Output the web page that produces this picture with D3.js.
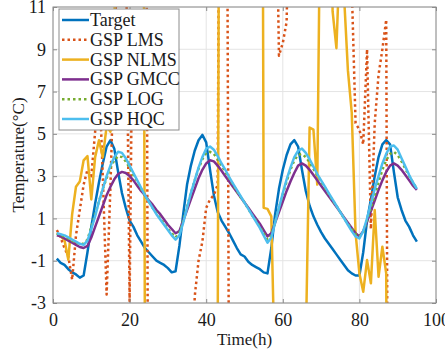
<!DOCTYPE html>
<html>
<head>
<meta charset="utf-8">
<script src="https://cdn.jsdelivr.net/npm/d3@7"></script>
<style>
  html, body { margin: 0; padding: 0; background: #fff; }
  svg { display: block; font-family: "Liberation Serif", "Times New Roman", serif; }
</style>
</head>
<body>
<svg id="chart" width="445" height="356"></svg>
<script>
// Hourly time axis (h)
const hours = d3.range(1, 96);

// Temperature series (°C); values beyond the axis limits run off the plot
const target = [
  -0.9, -1.1, -1.2, -1.4, -1.55, -1.65, -1.8, -1.7, -0.6, 0.6,
  1.7, 2.7, 3.6, 4.4, 4.7, 4.3, 3.2, 2.2, 1.5, 0.9,
  0.6, 0.2, -0.1, -0.4, -0.6, -0.8, -1.0, -1.1, -1.2, -1.35,
  -1.55, -1.5, -0.3, 1.2, 2.6, 3.5, 4.2, 4.7, 4.95, 4.6,
  3.3, 2.1, 1.3, 0.9, 0.6, 0.3, -0.05, -0.4, -0.7, -0.8,
  -1.05, -1.2, -1.3, -1.4, -1.55, -1.6, -0.4, 1.2, 2.4, 3.3,
  4.0, 4.5, 4.7, 4.4, 3.3, 2.3, 1.6, 1.1, 0.7, 0.35,
  0.05, -0.2, -0.45, -0.7, -0.95, -1.2, -1.45, -1.6, -1.7, -1.7,
  -0.6, 0.9, 1.9, 3.0, 3.9, 4.5, 4.7, 4.5, 3.2, 2.0,
  1.4, 0.9, 0.6, 0.2, -0.1
];

const gspLMS = [
  0.45, 0.1, -0.4, -0.8, -1.9, 0.2, 1.4, 2.6, 3.3, 3.0,
  5.1, 8, 3.0, -2.6, 2.5, 9, 14, 16, 15, -2.9,
  15, 25, 30, 40, -20, -30, -30, -30, -30, -30,
  -30, -30, -30, -30, -30, -12, -2.7, -1.0, -0.1, 1.5,
  1.9, 2.1, 2.6, 40, 40, -10, -30, null, null, null,
  null, null, null, null, null, null, null, 20, 8.7, 9.3,
  10.3, 20, 30, 30, 30, 30, 30, 30, 30, 30,
  30, 30, 30, 30, 30, 30, 30, 12, 5.5, 5.2,
  4.5, 9.0, 0.5, 5.5, 7.8, 9.0, 10.4, -40, -30, -30,
  -30, -30, -30, -30, -30
];

const gspNLMS = [
  0.3, 0.15, -0.02, -0.95, 1.2, 2.5, 2.75, 3.75, 3.95, 1.9,
  3.9, 4.7, 3.9, 5.35, 5.1, 9, 30, 30, 30, 30,
  30, 30, 60, -5, -30, -30, -30, -30, -30, -30,
  -30, -30, -30, -30, -30, -30, -30, -30, -30, -30,
  -30, -30, -5, 60, 30, 30, 30, 30, 30, 30,
  30, 30, 30, 60, 1.5, 1.45, 1.1, -7, -30, -30,
  -30, -30, -30, -30, -60, -5, 5.3, 5.2, 2.6, 20,
  30, 40, 10.8, 9.05, 14, 11.5, 8.0, 6.0, 0.3, -1.6,
  -2.47, -0.97, -2.07, 1.4, -1.76, -0.34, -1.6, -40, -30, -30,
  -30, -30, -30, -30, -30
];

const gspGMCC = [
  0.2, 0.15, 0.05, -0.05, -0.15, -0.25, -0.35, -0.4, -0.3, 0.1,
  0.6, 1.1, 1.6, 2.1, 2.5, 2.85, 3.1, 3.2, 3.15, 3.0,
  2.8, 2.55, 2.3, 2.1, 1.85, 1.65, 1.4, 1.2, 0.95, 0.7,
  0.5, 0.3, 0.4, 0.9, 1.4, 1.9, 2.4, 2.9, 3.3, 3.6,
  3.75, 3.7, 3.5, 3.25, 3.0, 2.75, 2.5, 2.25, 2.0, 1.75,
  1.5, 1.25, 1.0, 0.75, 0.45, 0.15, 0.3, 0.8, 1.3, 1.8,
  2.3, 2.75, 3.15, 3.5, 3.6, 3.5, 3.3, 3.05, 2.8, 2.55,
  2.3, 2.05, 1.8, 1.55, 1.3, 1.05, 0.8, 0.55, 0.3, 0.15,
  0.4, 0.85, 1.35, 1.85, 2.35, 2.8, 3.2, 3.5, 3.6, 3.5,
  3.3, 3.05, 2.8, 2.55, 2.35
];

const gspLOG = [
  0.3, 0.2, 0.15, 0.05, -0.05, -0.15, -0.2, -0.2, 0.0, 0.6,
  1.2, 1.8, 2.4, 2.9, 3.4, 3.75, 3.95, 3.9, 3.7, 3.4,
  3.05, 2.75, 2.4, 2.1, 1.8, 1.5, 1.25, 1.0, 0.75, 0.5,
  0.3, 0.1, 0.3, 0.9, 1.55, 2.2, 2.8, 3.35, 3.8, 4.1,
  4.15, 4.05, 3.8, 3.5, 3.2, 2.9, 2.6, 2.3, 2.0, 1.75,
  1.45, 1.15, 0.9, 0.6, 0.3, 0.0, 0.2, 0.85, 1.5, 2.15,
  2.75, 3.3, 3.75, 4.0, 4.05, 3.9, 3.65, 3.35, 3.05, 2.75,
  2.45, 2.15, 1.85, 1.6, 1.3, 1.0, 0.75, 0.5, 0.25, 0.15,
  0.35, 0.9, 1.5, 2.1, 2.7, 3.3, 3.75, 4.05, 4.15, 4.0,
  3.7, 3.35, 3.0, 2.7, 2.4
];

const gspHQC = [
  0.3, 0.25, 0.2, 0.1, 0.0, -0.1, -0.2, -0.25, -0.05, 0.5,
  1.1, 1.8, 2.4, 3.0, 3.5, 3.9, 4.15, 4.1, 3.85, 3.5,
  3.15, 2.8, 2.45, 2.1, 1.8, 1.5, 1.2, 0.95, 0.7, 0.45,
  0.2, 0.0, 0.2, 0.8, 1.5, 2.2, 2.8, 3.4, 3.9, 4.3,
  4.4, 4.25, 3.95, 3.6, 3.3, 2.95, 2.65, 2.35, 2.05, 1.75,
  1.45, 1.15, 0.85, 0.55, 0.2, -0.15, 0.1, 0.8, 1.5, 2.2,
  2.85, 3.4, 3.9, 4.2, 4.3, 4.1, 3.8, 3.45, 3.1, 2.8,
  2.5, 2.2, 1.9, 1.6, 1.3, 1.0, 0.7, 0.4, 0.15, 0.05,
  0.4, 1.0, 1.7, 2.4, 3.0, 3.6, 4.05, 4.4, 4.45, 4.25,
  3.85, 3.45, 3.05, 2.7, 2.4
];

const seriesNames = ["Target", "GSP LMS", "GSP NLMS", "GSP GMCC", "GSP LOG", "GSP HQC"];
const seriesValues = [target, gspLMS, gspNLMS, gspGMCC, gspLOG, gspHQC];
const seriesColors = ["#0072BD", "#D95319", "#EDB120", "#7E2F8E", "#77AC30", "#4DBEEE"];
const seriesDashed = [false, true, false, false, true, false];

const xTicks = [0, 20, 40, 60, 80, 100];
const yTicks = [-3, -1, 1, 3, 5, 7, 9, 11];
const xTitle = "Time(h)";
const yTitle = "Temperature(°C)";

const svg = d3.select("#chart");
const W = 445, H = 356;
const m = { left: 53, right: 9, top: 7, bottom: 53 };

const x = d3.scaleLinear().domain([0, 100]).range([m.left, W - m.right]);
const y = d3.scaleLinear().domain([-3, 11]).range([H - m.bottom, m.top]);

const axisGray = "#8c8c8c";
const gridGray = "#e4e4e4";
const textColor = "#1a1a1a";

svg.append("rect").attr("x", 0).attr("y", 0).attr("width", W).attr("height", H).attr("fill", "#fff");

// grid
const grid = svg.append("g");
grid.selectAll("line.gx").data(xTicks).join("line")
  .attr("x1", d => x(d)).attr("x2", d => x(d))
  .attr("y1", y(-3)).attr("y2", y(11))
  .attr("stroke", gridGray).attr("stroke-width", 1);
grid.selectAll("line.gy").data(yTicks).join("line")
  .attr("x1", x(0)).attr("x2", x(100))
  .attr("y1", d => y(d)).attr("y2", d => y(d))
  .attr("stroke", gridGray).attr("stroke-width", 1);

// clipped plot area
svg.append("defs").append("clipPath").attr("id", "plot-clip")
  .append("rect")
  .attr("x", x(0)).attr("y", y(11))
  .attr("width", x(100) - x(0)).attr("height", y(-3) - y(11));

const plot = svg.append("g").attr("clip-path", "url(#plot-clip)");
const line = d3.line()
  .defined(d => d[1] != null)
  .x(d => x(d[0]))
  .y(d => y(d[1]));

seriesValues.forEach((vals, i) => {
  plot.append("path")
    .datum(hours.map((h, k) => [h, vals[k]]))
    .attr("d", line)
    .attr("fill", "none")
    .attr("stroke", seriesColors[i])
    .attr("stroke-width", 2.5)
    .attr("stroke-linejoin", "round")
    .attr("stroke-dasharray", seriesDashed[i] ? "2.5,3" : null);
});

// axes (ticks point inward)
function styleAxis(g, showText) {
  g.select(".domain").remove();
  g.selectAll(".tick line").attr("stroke", axisGray);
  g.selectAll(".tick text")
    .attr("fill", textColor)
    .style("font-size", "18px")
    .style("font-family", "'Liberation Serif', 'Times New Roman', serif");
  if (!showText) g.selectAll(".tick text").remove();
}

svg.append("g").attr("transform", `translate(0,${y(-3)})`)
  .call(d3.axisBottom(x).tickValues(xTicks).tickFormat(d => String(d))
    .tickSizeInner(-4).tickSizeOuter(0).tickPadding(10))
  .call(g => styleAxis(g, true));
svg.append("g").attr("transform", `translate(0,${y(11)})`)
  .call(d3.axisTop(x).tickValues(xTicks).tickSizeInner(-4).tickSizeOuter(0))
  .call(g => styleAxis(g, false));
svg.append("g").attr("transform", `translate(${x(0)},0)`)
  .call(d3.axisLeft(y).tickValues(yTicks).tickFormat(d => String(d))
    .tickSizeInner(-4).tickSizeOuter(0).tickPadding(7))
  .call(g => styleAxis(g, true));
svg.append("g").attr("transform", `translate(${x(100)},0)`)
  .call(d3.axisRight(y).tickValues(yTicks).tickSizeInner(-4).tickSizeOuter(0))
  .call(g => styleAxis(g, false));

// box
svg.append("rect")
  .attr("x", x(0)).attr("y", y(11))
  .attr("width", x(100) - x(0)).attr("height", y(-3) - y(11))
  .attr("fill", "none").attr("stroke", axisGray).attr("stroke-width", 1);

// axis titles
svg.append("text")
  .attr("x", (x(0) + x(100)) / 2).attr("y", 345)
  .attr("text-anchor", "middle")
  .attr("fill", textColor)
  .style("font-size", "17px")
  .text(xTitle);
svg.append("text")
  .attr("transform", `translate(24,${(y(-3) + y(11)) / 2}) rotate(-90)`)
  .attr("text-anchor", "middle")
  .attr("fill", textColor)
  .style("font-size", "17px")
  .text(yTitle);

// legend
const lg = svg.append("g");
const lgX = 59, lgY = 9, lgW = 120, lgH = 121, rowH = 19.8;
lg.append("rect")
  .attr("x", lgX).attr("y", lgY).attr("width", lgW).attr("height", lgH)
  .attr("fill", "#fff").attr("stroke", axisGray).attr("stroke-width", 1);
seriesNames.forEach((name, i) => {
  const cy = lgY + 11 + i * rowH;
  lg.append("line")
    .attr("x1", lgX + 3).attr("x2", lgX + 30)
    .attr("y1", cy).attr("y2", cy)
    .attr("stroke", seriesColors[i])
    .attr("stroke-width", 2.5)
    .attr("stroke-dasharray", seriesDashed[i] ? "2.5,3" : null);
  lg.append("text")
    .attr("x", lgX + 31).attr("y", cy + 6)
    .attr("fill", textColor)
    .style("font-size", "18px")
    .text(name);
});
</script>
</body>
</html>
